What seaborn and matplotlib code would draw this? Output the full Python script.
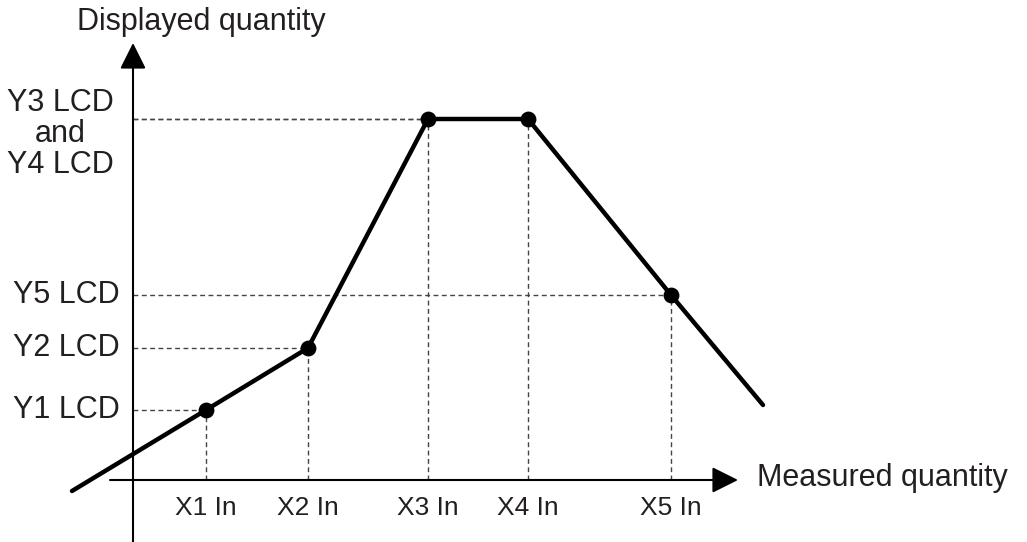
import matplotlib
matplotlib.use("Agg")
import matplotlib.pyplot as plt
import seaborn as sns
import pandas as pd

sns.set_theme(style="white")
plt.rcParams['font.family'] = ['Liberation Sans', 'DejaVu Sans']

# Data (pixel-derived units, origin at axes crossing)
x_labels = ["X1 In", "X2 In", "X3 In", "X4 In", "X5 In"]
x_points = [73, 175, 295, 395, 538]
y_points = [70, 132, 361, 361, 185]
y_labels = ["Y1 LCD", "Y2 LCD", "Y3 LCD\nand\nY4 LCD", "Y5 LCD"]
y_label_vals = [70, 132, 361, 185]
curve_x = [-61, 73, 175, 295, 395, 538, 630]
curve_y = [-11, 70, 132, 361, 361, 185, 75]

curve = pd.DataFrame({"x": curve_x, "y": curve_y})
pts = pd.DataFrame({"x": x_points, "y": y_points})

fig = plt.figure(figsize=(10.27, 5.42), dpi=100)
ax = fig.add_axes([0, 0, 1, 1])
ax.set_xlim(-133, 894)
ax.set_ylim(-62, 480)
ax.axis("off")

# dashed guides
for xv, yv in zip(x_points, y_points):
    ax.plot([xv, xv], [0, yv], color="#444444", lw=1.0, dashes=(3.5, 2.5), zorder=1)
    ax.plot([0, xv], [yv, yv], color="#444444", lw=1.0, dashes=(3.5, 2.5), zorder=1)

# axes with arrows
arrow = dict(arrowstyle="-|>,head_length=0.8,head_width=0.4", lw=1.5, color="black",
             shrinkA=0, shrinkB=0, mutation_scale=20)
ax.annotate("", xy=(0, 437), xytext=(0, -62), arrowprops=arrow, zorder=2)
ax.annotate("", xy=(605, 0), xytext=(-23, 0), arrowprops=arrow, zorder=2)

# curve and points
sns.lineplot(data=curve, x="x", y="y", ax=ax, color="black", lw=3.2, sort=False,
             estimator=None, zorder=3)
sns.scatterplot(data=pts, x="x", y="y", ax=ax, color="black", s=130, edgecolor="black",
                linewidth=0, zorder=4)

fs = 22
tc = "#231f20"
for lab, xv in zip(x_labels, x_points):
    ax.text(xv, -28, lab, ha="center", va="center", fontsize=19, color=tc)
for lab, yv in zip(y_labels, y_label_vals):
    if "\n" in lab:
        ax.text(-73, 346, lab, ha="center", va="center", fontsize=fs, color=tc,
                linespacing=1.04)
    else:
        ax.text(-13, yv, lab, ha="right", va="center", fontsize=fs, color=tc)

ax.text(68, 458, "Displayed quantity", ha="center", va="center", fontsize=fs, color=tc)
ax.text(624, 2, "Measured quantity", ha="left", va="center", fontsize=fs, color=tc)

ax.set_xlabel("")
ax.set_ylabel("")
fig.savefig("out.png", dpi=100)
